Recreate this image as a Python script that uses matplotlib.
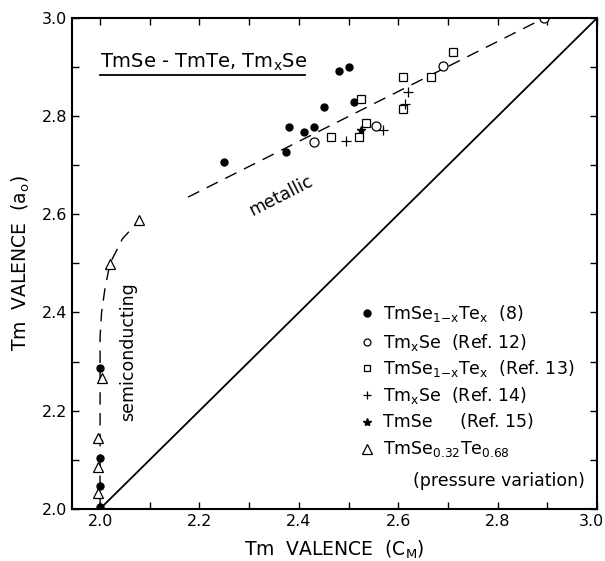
#!/usr/bin/env python3
"""Tm valence from lattice constant vs. Tm valence from C_M for TmSe-TmTe and Tm_xSe."""

import matplotlib
matplotlib.use("Agg")
import matplotlib.pyplot as plt
from matplotlib.ticker import MultipleLocator

plt.rcParams["font.family"] = ["DejaVu Sans"]
plt.rcParams["mathtext.default"] = "regular"
plt.rcParams["font.size"] = 12

# TmSe1-xTex (8), filled circles
own_x = [2.25, 2.38, 2.375, 2.41, 2.43, 2.45, 2.48, 2.50, 2.51, 2.0, 2.0, 2.0, 2.0]
own_y = [2.706, 2.778, 2.726, 2.768, 2.777, 2.819, 2.891, 2.900, 2.828, 2.286, 2.104, 2.047, 2.003]

# TmxSe (Ref. 12), open circles
ref12_x = [2.43, 2.555, 2.69, 2.894]
ref12_y = [2.748, 2.779, 2.902, 3.0]

# TmSe1-xTex (Ref. 13), open squares
ref13_x = [2.465, 2.52, 2.525, 2.535, 2.61, 2.61, 2.665, 2.71]
ref13_y = [2.757, 2.757, 2.835, 2.785, 2.879, 2.814, 2.879, 2.931]

# TmxSe (Ref. 14), plus signs
ref14_x = [2.495, 2.57, 2.62, 2.613]
ref14_y = [2.750, 2.771, 2.850, 2.825]

# TmSe (Ref. 15), star
ref15_x = [2.525]
ref15_y = [2.772]

# TmSe0.32Te0.68 under pressure, open triangles
press_x = [1.995, 1.995, 1.995, 2.003, 2.02, 2.079]
press_y = [2.033, 2.086, 2.145, 2.267, 2.498, 2.588]

# guide lines
metal_x = [2.177, 2.894]
metal_y = [2.635, 3.0]
semi_x = [2.0, 2.0, 2.003, 2.01, 2.02, 2.045, 2.079]
semi_y = [2.0, 2.35, 2.40, 2.45, 2.50, 2.55, 2.588]
diag = [2.0, 3.0]

fig = plt.figure(figsize=(6.05, 5.61), dpi=100)
ax = fig.add_axes([0.119, 0.093, 0.868, 0.875])

ax.plot(diag, diag, color="black", lw=1.3)
ax.plot(metal_x, metal_y, color="black", lw=1.0, dashes=(9, 6))
ax.plot(semi_x, semi_y, color="black", lw=1.0, dashes=(9, 6))

ax.plot(own_x, own_y, "o", ms=5, color="black", ls="none")
ax.plot(ref12_x, ref12_y, "o", ms=6.5, mfc="white", mec="black", mew=0.9, ls="none")
ax.plot(ref13_x, ref13_y, "s", ms=6, mfc="white", mec="black", mew=0.9, ls="none")
ax.plot(ref14_x, ref14_y, "+", ms=6.5, color="black", mew=0.9, ls="none")
ax.plot(ref15_x, ref15_y, "*", ms=6, color="black", ls="none")
ax.plot(press_x, press_y, "^", ms=7, mfc="white", mec="black", mew=0.9, ls="none")

# legend drawn in data coordinates
leg_x = 2.538
txt_x = 2.569
rows = [
    (2.398, dict(marker="o", ms=5, color="black"), "TmSe$_{1{-}x}$Te$_x$  (8)"),
    (2.339, dict(marker="o", ms=5, mfc="white", mec="black", mew=0.9), "Tm$_x$Se  (Ref. 12)"),
    (2.286, dict(marker="s", ms=5, mfc="white", mec="black", mew=0.9), "TmSe$_{1{-}x}$Te$_x$  (Ref. 13)"),
    (2.231, dict(marker="+", ms=6, color="black", mew=0.9), "Tm$_x$Se  (Ref. 14)"),
    (2.176, dict(marker="*", ms=6, color="black"), "TmSe     (Ref. 15)"),
    (2.122, dict(marker="^", ms=6.5, mfc="white", mec="black", mew=0.9), "TmSe$_{0.32}$Te$_{0.68}$"),
]
for y, style, label in rows:
    ax.plot([leg_x], [y], ls="none", **style)
    ax.text(txt_x, y, label, fontsize=12.5, ha="left", va="center")
ax.text(2.629, 2.057, "(pressure variation)", fontsize=12.5, ha="left", va="center")

ax.text(2.0, 2.909, "TmSe - TmTe, Tm$_x$Se", fontsize=14, ha="left", va="center")
ax.plot([2.0, 2.413], [2.884, 2.884], color="black", lw=1.3)

ax.text(2.365, 2.638, "metallic", fontsize=12.5, rotation=27, ha="center", va="center",
        rotation_mode="anchor")
ax.text(2.056, 2.32, "semiconducting", fontsize=12.5, rotation=90, ha="center", va="center")

ax.set_xlim(1.9435, 3.0)
ax.set_ylim(2.0, 3.0)
ax.xaxis.set_major_locator(MultipleLocator(0.2))
ax.xaxis.set_minor_locator(MultipleLocator(0.1))
ax.yaxis.set_major_locator(MultipleLocator(0.2))
ax.yaxis.set_minor_locator(MultipleLocator(0.1))
# the 3.0 label at the right edge is placed by hand so it is not clipped
ax.xaxis.set_major_formatter(lambda v, p: "" if v > 2.95 else f"{v:.1f}")
ax.yaxis.set_major_formatter(lambda v, p: f"{v:.1f}")
ax.tick_params(which="both", direction="in", top=True, right=True, length=5, width=1.0,
               labelsize=11.5)
for s in ax.spines.values():
    s.set_linewidth(1.5)
ax.annotate("3.0", xy=(1.0, 0.0), xycoords="axes fraction", xytext=(-4, -3.5),
            textcoords="offset points", ha="center", va="top", fontsize=11.5,
            annotation_clip=False)

ax.set_xlabel("Tm  VALENCE  (C$_M$)", fontsize=13.5, labelpad=7)
ax.set_ylabel("Tm  VALENCE  (a$_o$)", fontsize=13.5, labelpad=7)

fig.savefig("out.png", dpi=100)
